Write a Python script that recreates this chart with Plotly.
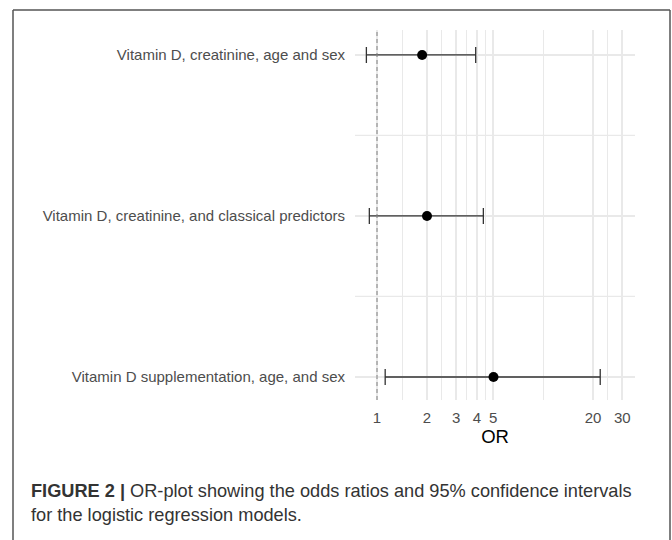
import plotly.graph_objects as go
import math

# ---- data ----
models = [
    "Vitamin D, creatinine, age and sex",
    "Vitamin D, creatinine, and classical predictors",
    "Vitamin D supplementation, age, and sex",
]
odds_ratio = [1.87, 2.00, 5.03]
ci_lower = [0.863, 0.899, 1.12]
ci_upper = [3.93, 4.37, 22.1]
x_breaks = [1, 2, 3, 4, 5, 20, 30]
x_labels = ["1", "2", "3", "4", "5", "20", "30"]
reference_line = 1
caption_bold = "FIGURE 2 |"
caption_text = " OR-plot showing the odds ratios and 95% confidence intervals<br>for the logistic regression models."

W, H = 672, 540
GRID = "#e9e9e9"
FONT = "Liberation Sans, Arial, sans-serif"

minor_x = [math.sqrt(a * b) for a, b in zip(x_breaks[:-1], x_breaks[1:])]

fig = go.Figure()
fig.add_trace(go.Scatter(
    x=odds_ratio, y=models, mode="markers",
    marker=dict(color="black", size=10),
    error_x=dict(type="data", symmetric=False,
                 array=[u - o for u, o in zip(ci_upper, odds_ratio)],
                 arrayminus=[o - l for o, l in zip(odds_ratio, ci_lower)],
                 color="#333333", thickness=1.3, width=8),
    showlegend=False, hoverinfo="skip",
))

px_l, px_r, px_t, px_b = 355, 635, 30, 400
fig.update_layout(
    width=W, height=H, margin=dict(l=0, r=0, t=0, b=0),
    paper_bgcolor="white", plot_bgcolor="white",
    font=dict(family=FONT, color="#4d4d4d", size=15),
    xaxis=dict(
        type="log", domain=[px_l / W, px_r / W],
        range=[math.log10(0.737), math.log10(35.8)],
        tickmode="array", tickvals=x_breaks, ticktext=x_labels,
        showgrid=True, gridcolor=GRID, gridwidth=1.5,
        minor=dict(tickmode="array", tickvals=minor_x, showgrid=True,
                   gridcolor=GRID, gridwidth=1.3),
        zeroline=False, showline=False,
        ticks="outside", ticklen=4, tickcolor="rgba(0,0,0,0)",
        tickfont=dict(size=15, color="#4d4d4d"),
        title=dict(text="OR", font=dict(size=18.5, color="black"), standoff=3),
        automargin=False, anchor="y",
    ),
    yaxis=dict(
        domain=[1 - px_b / H, 1 - px_t / H],
        type="category", categoryorder="array", categoryarray=models,
        range=[2.143, -0.155],
        showgrid=True, gridcolor=GRID, gridwidth=1.5,
        zeroline=False, showline=False,
        ticks="outside", ticklen=6, tickcolor="rgba(0,0,0,0)",
        tickfont=dict(size=15, color="#4d4d4d"),
        automargin=False, anchor="x",
    ),
)

# minor horizontal grid lines between categories
for yv in [0.5, 1.5]:
    fig.add_shape(type="line", xref="x domain", yref="y", x0=0, x1=1, y0=yv, y1=yv,
                  line=dict(color=GRID, width=1.3), layer="below")

# dashed reference line at OR = 1
fig.add_shape(type="line", xref="x", yref="y domain", x0=reference_line, x1=reference_line,
              y0=0, y1=1, line=dict(color="#808080", width=1, dash="4px,3px"))

# figure frame
fx0, fx1, fy = 13 / W, 670 / W, 1 - 10 / H
frame = dict(color="#555555", width=1.5)
fig.add_shape(type="line", xref="paper", yref="paper", x0=fx0, x1=fx0, y0=0, y1=fy, line=frame)
fig.add_shape(type="line", xref="paper", yref="paper", x0=fx0, x1=fx1, y0=fy, y1=fy, line=frame)
fig.add_shape(type="line", xref="paper", yref="paper", x0=fx1, x1=fx1, y0=0, y1=fy, line=frame)

# caption
fig.add_annotation(
    xref="paper", yref="paper", x=29 / W, y=1 - 479 / H, xanchor="left", yanchor="top",
    text="<b>" + caption_bold + "</b>" + caption_text, showarrow=False, align="left",
    font=dict(family=FONT, size=18.2, color="#333333"),
)

fig.write_html(
    "out.html",
    config={"displayModeBar": False},
    post_script="document.body.style.margin='0';document.body.style.overflow='hidden';",
)
